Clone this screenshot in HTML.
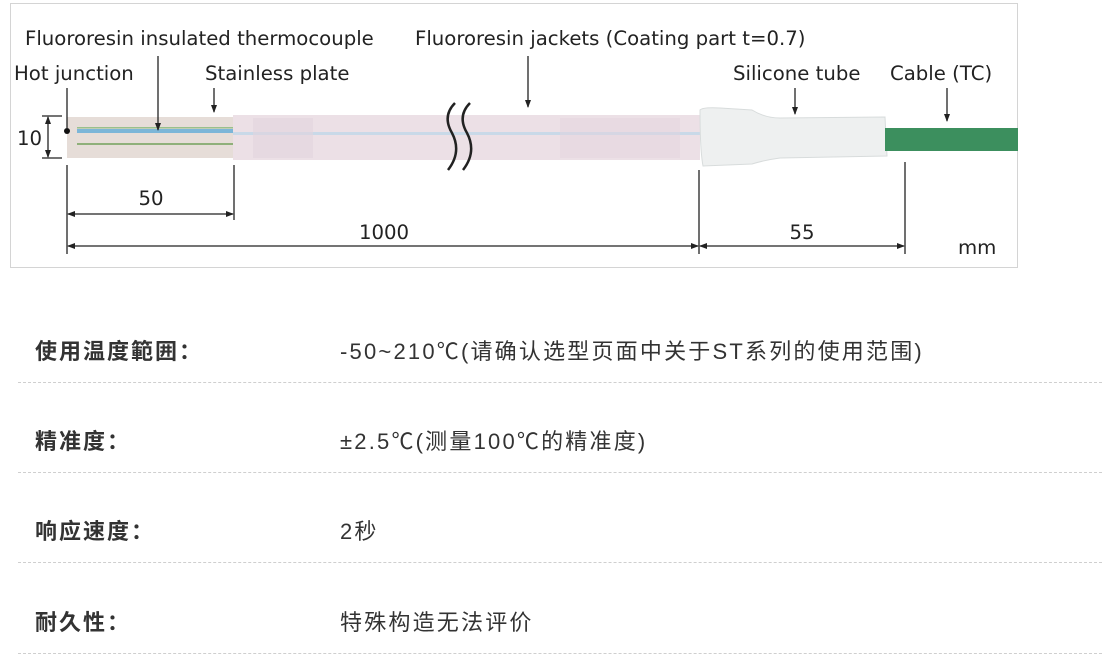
<!DOCTYPE html>
<html><head><meta charset="utf-8"><style>
body{margin:0;background:#fff;width:1102px;height:655px;overflow:hidden;font-family:"Liberation Sans","Noto Sans CJK SC",sans-serif;}
.row{position:absolute;left:18px;width:1084px;height:90px;border-bottom:1px dashed #cfcfcf;font-size:22px;color:#333;}
.row b{position:absolute;left:17px;top:42px;letter-spacing:2px;}
.row span{position:absolute;left:322px;top:42px;letter-spacing:2.2px;}
</style></head><body>
<svg width="1102" height="270" style="position:absolute;left:0;top:0" font-family="'DejaVu Sans','Liberation Sans',sans-serif" font-size="19.7" fill="#222">
<defs>
<marker id="a" markerWidth="8" markerHeight="8" refX="7" refY="4" orient="auto" markerUnits="userSpaceOnUse"><path d="M0,1 L8,4 L0,7 z" fill="#222"/></marker>
<marker id="b" markerWidth="8" markerHeight="8" refX="1" refY="4" orient="auto" markerUnits="userSpaceOnUse"><path d="M8,1 L0,4 L8,7 z" fill="#222"/></marker>
</defs>
<rect x="10.5" y="3.5" width="1007" height="264" fill="none" stroke="#d4d4d4"/>
<rect x="67" y="117" width="166" height="41" fill="#e6ddd8"/>
<rect x="77" y="129" width="156" height="4" fill="#7cb6d8"/>
<rect x="77" y="127" width="156" height="1.5" fill="#9ac08c"/>
<rect x="77" y="143" width="156" height="2" fill="#8fb07a"/>
<rect x="233" y="115" width="467" height="45" fill="#ece0e6"/>
<rect x="233" y="132" width="467" height="3" fill="#c9d9e8"/>
<rect x="253" y="118" width="60" height="40" fill="#e3d3dd" opacity=".6"/>
<rect x="560" y="118" width="120" height="40" fill="#e3d3dd" opacity=".5"/>
<path d="M700,110 Q703,107 720,108 L752,110 Q765,118 780,118 L885,117 L887,156 L780,158 Q765,160 752,164 L703,166 Q700,150 700,110z" fill="#eef0f0" stroke="#d8dcdc"/>
<rect x="885" y="128" width="133" height="23" fill="#3c8f5e"/>
<path d="M455,103 Q442,116 452,133 Q462,152 448,170" fill="none" stroke="#222" stroke-width="2.5"/>
<path d="M470,103 Q457,116 467,133 Q477,152 463,170" fill="none" stroke="#222" stroke-width="2.5"/>
<circle cx="67" cy="131" r="3" fill="#111"/>
<text x="25" y="45">Fluororesin insulated thermocouple</text>
<text x="14" y="80">Hot junction</text>
<text x="205" y="80">Stainless plate</text>
<text x="415" y="45">Fluororesin jackets (Coating part t=0.7)</text>
<text x="733" y="80">Silicone tube</text>
<text x="890" y="80">Cable (TC)</text>
<g stroke="#222" stroke-width="1.3" fill="none">
<line x1="67" y1="88" x2="67" y2="128"/>
<line x1="158" y1="56" x2="158" y2="130" marker-end="url(#a)"/>
<line x1="214" y1="88" x2="214" y2="112" marker-end="url(#a)"/>
<line x1="528" y1="56" x2="528" y2="107" marker-end="url(#a)"/>
<line x1="795" y1="88" x2="795" y2="114" marker-end="url(#a)"/>
<line x1="947" y1="88" x2="947" y2="121" marker-end="url(#a)"/>
<line x1="42" y1="116" x2="62" y2="116"/><line x1="42" y1="158" x2="62" y2="158"/>
<line x1="48" y1="117" x2="48" y2="157" marker-start="url(#b)" marker-end="url(#a)"/>
<line x1="67" y1="165" x2="67" y2="254"/>
<line x1="234" y1="165" x2="234" y2="220"/>
<line x1="699" y1="170" x2="699" y2="254"/>
<line x1="905" y1="162" x2="905" y2="254"/>
<line x1="68" y1="214" x2="233" y2="214" marker-start="url(#b)" marker-end="url(#a)"/>
<line x1="68" y1="246" x2="698" y2="246" marker-start="url(#b)" marker-end="url(#a)"/>
<line x1="700" y1="246" x2="904" y2="246" marker-start="url(#b)" marker-end="url(#a)"/>
</g>
<text x="17" y="145">10</text>
<text x="151" y="205" text-anchor="middle">50</text>
<text x="384" y="239" text-anchor="middle">1000</text>
<text x="802" y="239" text-anchor="middle">55</text>
<text x="958" y="254">mm</text>
</svg>
<div class="row" style="top:292px"><b>使用温度範囲：</b><span>-50~210℃(请确认选型页面中关于ST系列的使用范围)</span></div>
<div class="row" style="top:382px"><b>精准度：</b><span>±2.5℃(测量100℃的精准度)</span></div>
<div class="row" style="top:472px"><b>响应速度：</b><span>2秒</span></div>
<div class="row" style="top:563px"><b>耐久性：</b><span>特殊构造无法评价</span></div>
</body></html>
